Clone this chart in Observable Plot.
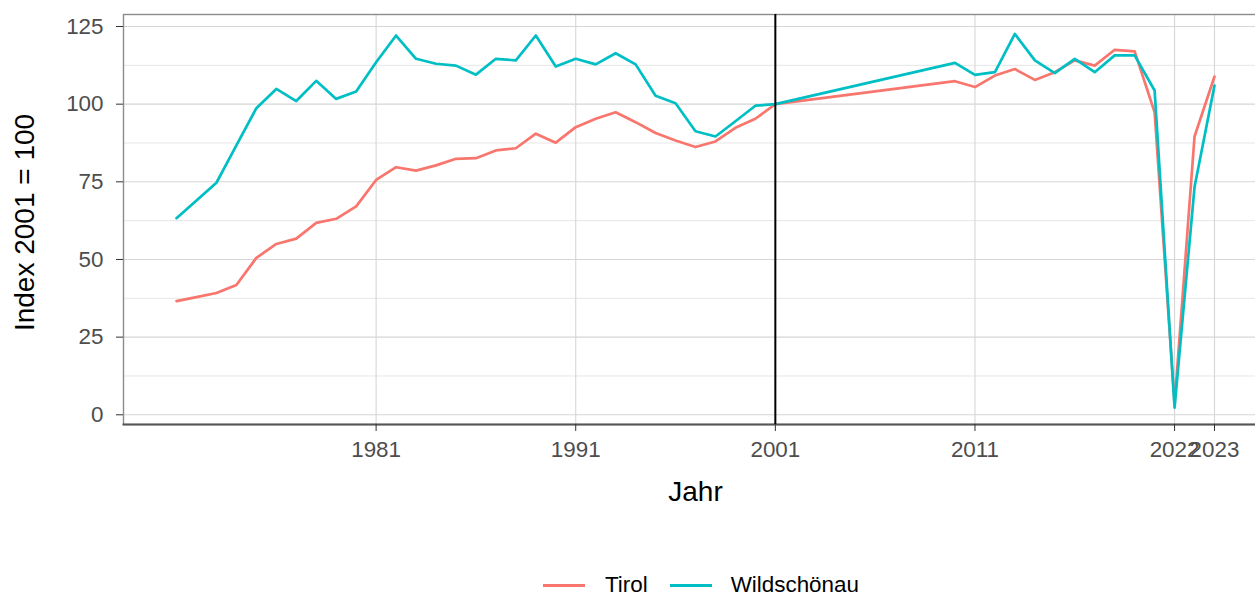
<!DOCTYPE html>
<html>
<head>
<meta charset="utf-8">
<script src="https://cdn.jsdelivr.net/npm/d3@7"></script>
<script src="https://cdn.jsdelivr.net/npm/@observablehq/plot@0.6"></script>
<style>
  html, body { margin: 0; padding: 0; background: #fff; overflow: hidden; width: 1255px; height: 597px; }
  #chart { position: absolute; left: 0; top: 0; }
  #chart svg { max-width: none !important; }
  #legend { position: absolute; left: 543px; top: 574px; display: flex; align-items: center;
            font-family: Arial, "Liberation Sans", sans-serif; font-size: 22.4px; line-height: 22px; color: #000; }
  .sw { width: 42px; height: 3px; display: inline-block; }
</style>
</head>
<body>
<div id="chart"></div>
<div id="legend"></div>
<script>
const years = [1971,1972,1973,1974,1975,1976,1977,1978,1979,1980,
  1981,1982,1983,1984,1985,1986,1987,1988,1989,1990,
  1991,1992,1993,1994,1995,1996,1997,1998,1999,2000,2001,
  2010,2011,2012,2013,2014,2015,2016,2017,2018,2019,2020,2021,2022,2023];
const tirol = [36.6,37.9,39.2,41.8,50.5,55.0,56.7,61.8,63.1,67.1,
  75.6,79.7,78.6,80.3,82.4,82.6,85.1,85.8,90.5,87.6,
  92.6,95.3,97.4,94.2,90.7,88.3,86.2,88.0,92.4,95.3,100,
  107.4,105.5,109.2,111.3,107.8,110.3,114.1,112.4,117.5,117.0,97.4,3.5,89.6,108.9];
const wildschoenau = [63.3,69.0,74.7,86.7,98.7,104.9,101.0,107.5,101.7,104.1,
  113.5,122.1,114.6,113.0,112.4,109.5,114.6,114.1,122.1,112.1,
  114.6,112.8,116.4,112.8,102.7,100.3,91.3,89.6,94.5,99.5,100,
  113.3,109.4,110.3,122.6,114.1,110.0,114.6,110.3,115.7,115.7,104.4,2.3,73.3,106.0];
const seriesNames = ["Tirol", "Wildschönau"];
const seriesColors = ["#F8766D", "#00BFC4"];
const xTicks = [1981, 1991, 2001, 2011, 2021, 2023];
const xTickLabels = ["1981", "1991", "2001", "2011", "2022", "2023"];
const yTicks = [0, 25, 50, 75, 100, 125];
const yMinor = [12.5, 37.5, 62.5, 87.5, 112.5];
const refYear = [2001];

const rows = [];
years.forEach((y, i) => {
  rows.push({year: y, value: tirol[i], series: seriesNames[0]});
});
years.forEach((y, i) => {
  rows.push({year: y, value: wildschoenau[i], series: seriesNames[1]});
});

const W = 1267, H = 560;
const chart = Plot.plot({
  width: W,
  height: H,
  marginLeft: 123,
  marginRight: 0,
  marginTop: 14,
  marginBottom: 136,
  style: {fontFamily: 'Arial, "Liberation Sans", sans-serif', background: "#fff", maxWidth: "none"},
  x: {domain: [1971, 2023], range: [176, 1214]},
  y: {domain: [0, 125], range: [414.3, 26]},
  color: {domain: seriesNames, range: seriesColors},
  marks: [
    Plot.ruleY(yMinor, {stroke: "#e6e6e6", strokeWidth: 1}),
    Plot.ruleY(yTicks, {stroke: "#d6d6d6", strokeWidth: 1.1}),
    Plot.ruleX(xTicks, {stroke: "#d6d6d6", strokeWidth: 1.1}),
    Plot.frame({stroke: "#8c8c8c", strokeWidth: 1.4}),
    Plot.frame({anchor: "bottom", stroke: "#555", strokeWidth: 2}),
    Plot.line(rows, {x: "year", y: "value", z: "series", stroke: "series", strokeWidth: 2.7}),
    Plot.ruleX(refYear, {stroke: "#000", strokeWidth: 2}),
    Plot.axisY({ticks: yTicks, tickSize: 7, tickPadding: 13, fontSize: 22.4, stroke: "#333", fill: "#4d4d4d", label: null}),
    Plot.axisX({ticks: xTicks, tickSize: 7, tickPadding: 10, fontSize: 22.4, stroke: "#333", fill: "#4d4d4d",
      tickFormat: d => xTickLabels[xTicks.indexOf(d)], label: null}),
    Plot.text(["Jahr"], {frameAnchor: "bottom", dy: 76, fontSize: 28, fill: "#000"}),
    Plot.text(["Index 2001 = 100"], {frameAnchor: "left", textAnchor: "middle", rotate: -90, dx: -98, dy: 3, fontSize: 28, fill: "#000"})
  ]
});
document.getElementById("chart").appendChild(chart);

const legend = document.getElementById("legend");
seriesNames.forEach((name, i) => {
  const sw = document.createElement("span");
  sw.className = "sw";
  sw.style.background = seriesColors[i];
  sw.style.marginLeft = i === 0 ? "0px" : "22px";
  const tx = document.createElement("span");
  tx.textContent = name;
  tx.style.marginLeft = i === 0 ? "20px" : "19px";
  legend.appendChild(sw);
  legend.appendChild(tx);
});
</script>
</body>
</html>
